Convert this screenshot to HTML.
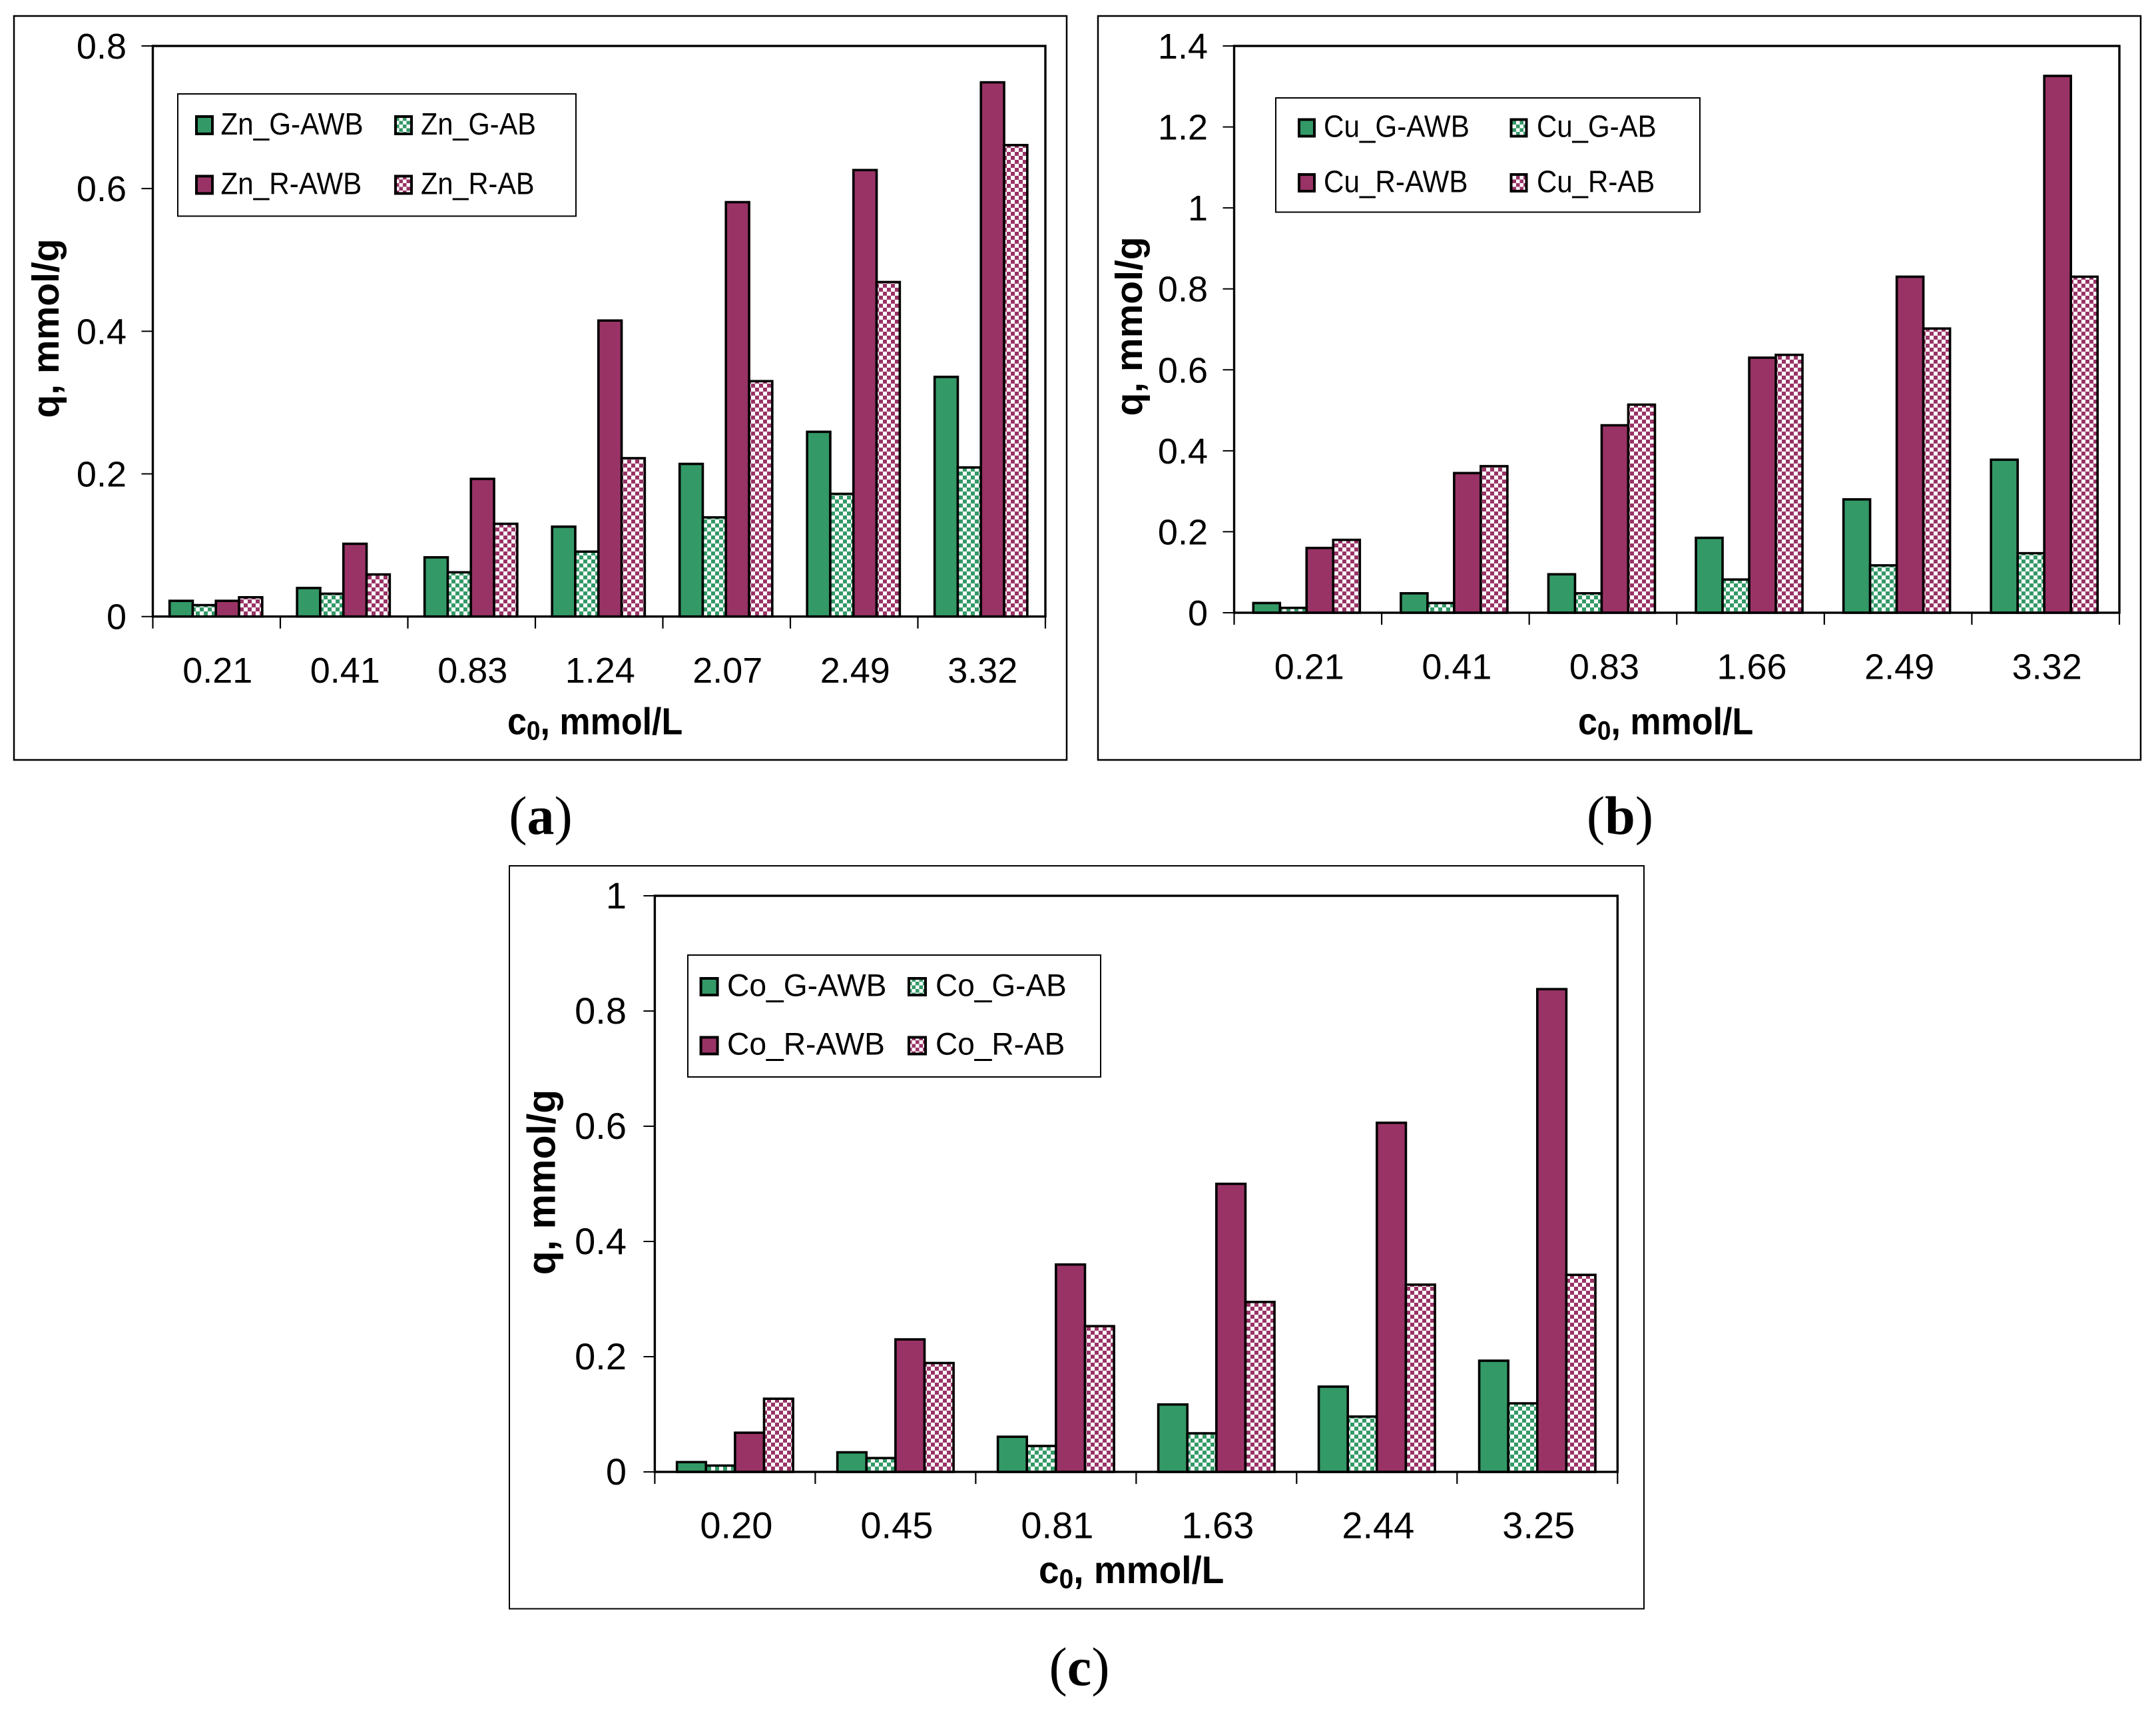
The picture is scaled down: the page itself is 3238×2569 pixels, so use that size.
<!DOCTYPE html>
<html lang="en">
<head>
<meta charset="utf-8">
<title>Adsorption capacity bar charts</title>
<style>
html,body{margin:0;padding:0;background:#fff;width:3238px;height:2569px;overflow:hidden}
svg{display:block}
text{font-family:"Liberation Sans",sans-serif;fill:#000}
.cap{font-family:"Liberation Serif",serif;font-size:82px}
.ttl{font-weight:bold}
</style>
</head>
<body>
<svg id="fig" xmlns="http://www.w3.org/2000/svg" width="3238" height="2569" viewBox="0 0 3238 2569">
<defs>
<pattern id="chkG" patternUnits="userSpaceOnUse" width="12" height="12"><rect width="12" height="12" fill="#fff"/><rect width="6" height="6" fill="#339966"/><rect x="6" y="6" width="6" height="6" fill="#339966"/></pattern>
<pattern id="chkR" patternUnits="userSpaceOnUse" width="12" height="12"><rect width="12" height="12" fill="#fff"/><rect width="6" height="6" fill="#993366"/><rect x="6" y="6" width="6" height="6" fill="#993366"/></pattern>
<pattern id="lgG" patternUnits="userSpaceOnUse" width="11" height="11"><rect width="11" height="11" fill="#fff"/><rect width="5.5" height="5.5" fill="#339966"/><rect x="5.5" y="5.5" width="5.5" height="5.5" fill="#339966"/></pattern>
<pattern id="lgR" patternUnits="userSpaceOnUse" width="11" height="11"><rect width="11" height="11" fill="#fff"/><rect width="5.5" height="5.5" fill="#993366"/><rect x="5.5" y="5.5" width="5.5" height="5.5" fill="#993366"/></pattern>
</defs>
<rect width="3238" height="2569" fill="#fff"/>

<!-- Panel a -->
<g id="panel-a">
<rect x="21" y="24" width="1581" height="1117" fill="none" stroke="#000" stroke-width="2.5"/>
<text class="ttl" font-size="57" text-anchor="middle" transform="translate(88,493) rotate(-90)">q, mmol/g</text>
<text class="ttl" font-size="52" transform="translate(762,1102.7) scale(1,1.08)">c<tspan font-size="37" dy="7">0</tspan><tspan dy="-7">, mmol/L</tspan></text>
<text class="cap" x="812" y="1252" text-anchor="middle">(<tspan font-weight="bold">a</tspan>)</text>
</g>

<!-- Panel b -->
<g id="panel-b">
<rect x="1649" y="24" width="1566" height="1117" fill="none" stroke="#000" stroke-width="2.5"/>
<text class="ttl" font-size="57" text-anchor="middle" transform="translate(1715,490) rotate(-90)">q, mmol/g</text>
<text class="ttl" font-size="52" transform="translate(2370,1102.7) scale(1,1.08)">c<tspan font-size="37" dy="7">0</tspan><tspan dy="-7">, mmol/L</tspan></text>
<text class="cap" x="2433" y="1252" text-anchor="middle">(<tspan font-weight="bold">b</tspan>)</text>
</g>

<!-- Panel c -->
<g id="panel-c">
<rect x="765" y="1300" width="1704" height="1115.5" fill="none" stroke="#000" stroke-width="2"/>
<text class="ttl" font-size="59" text-anchor="middle" transform="translate(833.5,1775) rotate(-90)">q, mmol/g</text>
<text class="ttl" font-size="55" transform="translate(1560,2377) scale(1,1.04)">c<tspan font-size="39" dy="7">0</tspan><tspan dy="-7">, mmol/L</tspan></text>
<text class="cap" x="1621" y="2530" text-anchor="middle">(<tspan font-weight="bold">c</tspan>)</text>
</g>

<g id="bars-layer"></g>

<!-- Legend a -->
<g>
<rect x="267" y="141" width="598" height="183.5" fill="#fff" stroke="#000" stroke-width="2"/>
<g><rect x="295" y="175" width="24" height="26" fill="#339966" stroke="#000" stroke-width="4"/><text font-size="42.2" transform="translate(331.5,202) scale(1,1.1)">Zn_G-AWB</text></g>
<g><rect x="594" y="175" width="24" height="26" fill="url(#lgG)" stroke="#000" stroke-width="4"/><text font-size="41.5" transform="translate(632,202) scale(1,1.12)">Zn_G-AB</text></g>
<g><rect x="295" y="264.5" width="24" height="26" fill="#993366" stroke="#000" stroke-width="4"/><text font-size="42.2" transform="translate(331.5,291.6) scale(1,1.1)">Zn_R-AWB</text></g>
<g><rect x="594" y="264.5" width="24" height="26" fill="url(#lgR)" stroke="#000" stroke-width="4"/><text font-size="41.5" transform="translate(632,291.6) scale(1,1.12)">Zn_R-AB</text></g>
</g>

<!-- Legend b -->
<g>
<rect x="1916" y="147" width="637" height="171.5" fill="#fff" stroke="#000" stroke-width="2"/>
<g><rect x="1951" y="179.5" width="23" height="25" fill="#339966" stroke="#000" stroke-width="4"/><text font-size="42.2" transform="translate(1988,205.5) scale(1,1.1)">Cu_G-AWB</text></g>
<g><rect x="2269.5" y="179.5" width="23" height="25" fill="url(#lgG)" stroke="#000" stroke-width="4"/><text font-size="42" transform="translate(2308,205.5) scale(1,1.1)">Cu_G-AB</text></g>
<g><rect x="1951" y="262" width="23" height="25" fill="#993366" stroke="#000" stroke-width="4"/><text font-size="42.2" transform="translate(1988,288.6) scale(1,1.1)">Cu_R-AWB</text></g>
<g><rect x="2269.5" y="262" width="23" height="25" fill="url(#lgR)" stroke="#000" stroke-width="4"/><text font-size="42" transform="translate(2308,288.6) scale(1,1.1)">Cu_R-AB</text></g>
</g>

<!-- Legend c -->
<g>
<rect x="1033" y="1434" width="620" height="183" fill="#fff" stroke="#000" stroke-width="2"/>
<g><rect x="1052.6" y="1469" width="25" height="25" fill="#339966" stroke="#000" stroke-width="4"/><text font-size="46.2" transform="translate(1092,1495.5) scale(1,1.03)">Co_G-AWB</text></g>
<g><rect x="1365" y="1469" width="25" height="25" fill="url(#lgG)" stroke="#000" stroke-width="4"/><text font-size="46" transform="translate(1405,1495.5) scale(1,1.03)">Co_G-AB</text></g>
<g><rect x="1052.6" y="1557.5" width="25" height="25" fill="#993366" stroke="#000" stroke-width="4"/><text font-size="46.2" transform="translate(1092,1583.5) scale(1,1.03)">Co_R-AWB</text></g>
<g><rect x="1365" y="1557.5" width="25" height="25" fill="url(#lgR)" stroke="#000" stroke-width="4"/><text font-size="46" transform="translate(1405,1583.5) scale(1,1.03)">Co_R-AB</text></g>
</g>
</svg>

<script>
// Panel (a) Zn data
const znCategories = ['0.21','0.41','0.83','1.24','2.07','2.49','3.32'];
const znYTicks = ['0','0.2','0.4','0.6','0.8'];
const znGAWB = [0.022,0.040,0.083,0.126,0.214,0.259,0.336];
const znGAB  = [0.016,0.032,0.062,0.091,0.139,0.172,0.209];
const znRAWB = [0.022,0.102,0.193,0.415,0.581,0.626,0.749];
const znRAB  = [0.027,0.059,0.130,0.222,0.330,0.469,0.661];

// Panel (b) Cu data
const cuCategories = ['0.21','0.41','0.83','1.66','2.49','3.32'];
const cuYTicks = ['0','0.2','0.4','0.6','0.8','1','1.2','1.4'];
const cuGAWB = [0.024,0.048,0.095,0.185,0.280,0.378];
const cuGAB  = [0.012,0.024,0.048,0.082,0.117,0.147];
const cuRAWB = [0.160,0.345,0.463,0.630,0.830,1.326];
const cuRAB  = [0.180,0.362,0.514,0.637,0.702,0.830];

// Panel (c) Co data
const coCategories = ['0.20','0.45','0.81','1.63','2.44','3.25'];
const coYTicks = ['0','0.2','0.4','0.6','0.8','1'];
const coGAWB = [0.017,0.034,0.061,0.117,0.148,0.193];
const coGAB  = [0.011,0.024,0.045,0.067,0.096,0.119];
const coRAWB = [0.068,0.230,0.360,0.500,0.606,0.838];
const coRAB  = [0.127,0.189,0.253,0.295,0.325,0.342];

const SVGNS = 'http://www.w3.org/2000/svg';
const layer = document.getElementById('bars-layer');
const seriesFill = ['#339966','url(#chkG)','#993366','url(#chkR)'];
const seriesKey = ['g-awb','g-ab','r-awb','r-ab'];

function mk(tag, attrs){
  const el = document.createElementNS(SVGNS, tag);
  for (const k in attrs) el.setAttribute(k, attrs[k]);
  return el;
}

function drawPanel(p){
  const g = mk('g', {});
  
  
  layer.appendChild(g);

  const nCat = p.categories.length;
  const catW = (p.right - p.left) / nCat;
  const barW = catW * p.barFrac;
  const yMax = parseFloat(p.yTicks[p.yTicks.length - 1]);
  const yScale = v => p.bottom - (v / yMax) * (p.bottom - p.top);
  const xCat = i => p.left + i * catW;
  const xBar = (i, s) => xCat(i) + (catW - 4 * barW) / 2 + s * barW + p.barShift;

  const plotBg = mk('rect', {x:p.left, y:p.top, width:p.right-p.left, height:p.bottom-p.top, fill:'#fff'});
  
  
  g.appendChild(plotBg);

  p.series.forEach((vals, s) => {
    vals.forEach((v, i) => {
      const top = yScale(v);
      const r = mk('rect', {x:xBar(i,s), y:top, width:barW, height:p.bottom-top, fill:seriesFill[s], stroke:'#000', 'stroke-width':3.6});
      
      
      g.appendChild(r);
    });
  });

  const border = mk('rect', {x:p.left, y:p.top, width:p.right-p.left, height:p.bottom-p.top, fill:'none', stroke:'#000', 'stroke-width':3.4});
  
  
  g.appendChild(border);

  p.yTicks.forEach(lbl => {
    const y = yScale(parseFloat(lbl));
    const t = mk('line', {x1:p.left-17, x2:p.left, y1:y, y2:y, stroke:'#000', 'stroke-width':2});
    
    
    g.appendChild(t);
    const tx = mk('text', {x:p.labelRight, y:y+19, 'font-size':p.fs, 'text-anchor':'end'});
    tx.textContent = lbl;
    
    
    g.appendChild(tx);
  });

  for (let i = 0; i <= nCat; i++) {
    const x = xCat(i);
    const t = mk('line', {x1:x, x2:x, y1:p.bottom, y2:p.bottom+18, stroke:'#000', 'stroke-width':2.2});
    
    
    g.appendChild(t);
  }
  p.categories.forEach((lbl, i) => {
    const tx = mk('text', {x:xCat(i)+catW/2+p.labelShift, y:p.bottom+99.5, 'font-size':p.fs, 'text-anchor':'middle'});
    tx.textContent = lbl;
    
    
    g.appendChild(tx);
  });
}

drawPanel({key:'zn', categories:znCategories, yTicks:znYTicks, series:[znGAWB,znGAB,znRAWB,znRAB],
  left:229.5, right:1570, top:69, bottom:925.7, barFrac:0.1817, barShift:-1, labelShift:1.5, labelRight:190, fs:54});
drawPanel({key:'cu', categories:cuCategories, yTicks:cuYTicks, series:[cuGAWB,cuGAB,cuRAWB,cuRAB],
  left:1853.5, right:3183, top:69, bottom:920, barFrac:0.1805, barShift:-2, labelShift:2, labelRight:1814, fs:54});
drawPanel({key:'co', categories:coCategories, yTicks:coYTicks, series:[coGAWB,coGAB,coRAWB,coRAB],
  left:983.4, right:2429.3, top:1345, bottom:2210, barFrac:0.181, barShift:0, labelShift:2, labelRight:941, fs:56});
</script>
</body>
</html>
